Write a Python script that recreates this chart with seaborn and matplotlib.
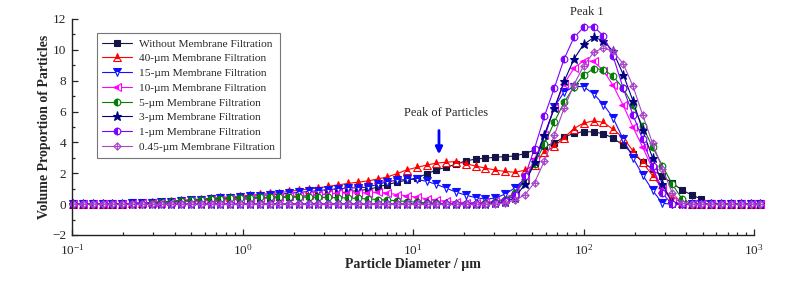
import matplotlib
matplotlib.use("Agg")
import matplotlib.pyplot as plt
import seaborn as sns
import numpy as np
from matplotlib.path import Path
from matplotlib.ticker import MultipleLocator, LogLocator, NullFormatter

# ==============================
# 1. style + fonts
# ==============================
sns.set_style("ticks")
plt.rcParams['font.family'] = ['Liberation Serif', 'DejaVu Serif']
plt.rcParams['mathtext.fontset'] = 'custom'
plt.rcParams['mathtext.rm'] = 'Liberation Serif'
plt.rcParams['mathtext.it'] = 'Liberation Serif:italic'
plt.rcParams['mathtext.bf'] = 'Liberation Serif:bold'

# ==============================
# 2. data (particle size bins, volume %)
# ==============================
diameter = [0.101, 0.116, 0.132, 0.151, 0.172, 0.197, 0.225, 0.256, 0.293, 0.334,
            0.382, 0.436, 0.498, 0.569, 0.649, 0.741, 0.847, 0.966, 1.10, 1.26,
            1.44, 1.64, 1.88, 2.14, 2.44, 2.79, 3.19, 3.64, 4.16, 4.74,
            5.42, 6.19, 7.06, 8.07, 9.20, 10.5, 12.0, 13.7, 15.7, 17.9,
            20.4, 23.3, 26.6, 30.4, 34.7, 39.6, 45.3, 51.6, 59.0, 67.3,
            76.9, 87.9, 100, 115, 131, 149, 171, 195, 222, 254,
            290, 331, 378, 431, 492, 562, 643, 733, 837, 955, 1090]

no_filter = ([0] * 6 +
             [0.02, 0.05, 0.08, 0.10, 0.13, 0.16, 0.19, 0.22, 0.25, 0.27, 0.30, 0.32] +
             [0.35, 0.38, 0.41, 0.44, 0.47, 0.51] +
             [0.55, 0.60, 0.66, 0.72, 0.80, 0.88, 0.95, 1.10, 1.27, 1.42, 1.56, 1.70, 1.95] +
             [2.22, 2.39, 2.60, 2.80, 2.92, 2.98, 3.04, 3.08, 3.12, 3.28, 3.50, 3.75] +
             [3.95, 4.36, 4.58, 4.70, 4.68, 4.56, 4.29, 3.81, 3.28, 2.76, 2.25, 1.81,
              1.36, 0.92, 0.59, 0.33, 0.10, 0, 0, 0, 0, 0])

f40 = ([0] * 5 +
       [0.02, 0.05, 0.08, 0.11, 0.15, 0.19, 0.24, 0.29, 0.33, 0.38, 0.43, 0.48] +
       [0.53, 0.58, 0.63, 0.69, 0.75, 0.82, 0.90, 0.98, 1.06, 1.15, 1.25, 1.34] +
       [1.42, 1.50, 1.63, 1.76, 1.98, 2.22, 2.38, 2.53, 2.66, 2.72, 2.76, 2.62] +
       [2.47, 2.33, 2.21, 2.12, 2.06, 2.20, 2.55, 3.35, 3.75, 4.30, 4.90, 5.25] +
       [5.40, 5.30, 4.85, 4.30, 3.45, 2.70, 1.85, 1.00, 0.45, 0.10, 0, 0] +
       [0] * 6)

f15 = ([0] * 5 +
       [0.02, 0.05, 0.08, 0.10, 0.13, 0.17, 0.21, 0.25, 0.29, 0.33, 0.37, 0.41] +
       [0.45, 0.50, 0.55, 0.60, 0.65, 0.70, 0.76, 0.82, 0.88, 0.94, 1.00, 1.04] +
       [1.06, 1.10, 1.28, 1.45, 1.55, 1.60, 1.60, 1.48, 1.28, 1.03, 0.78, 0.58] +
       [0.42, 0.33, 0.39, 0.65, 1.05, 1.65, 2.70, 4.30, 6.30, 7.25, 7.62, 7.62] +
       [7.13, 6.45, 5.60, 4.20, 3.00, 1.90, 0.90, 0.05, 0, 0, 0, 0] +
       [0] * 6)

f10 = ([0] * 6 +
       [0.02, 0.05, 0.08, 0.10, 0.13, 0.16, 0.19, 0.22, 0.25, 0.28, 0.31, 0.34] +
       [0.37, 0.40, 0.43, 0.46, 0.50, 0.54, 0.58, 0.62, 0.66, 0.70, 0.73, 0.74] +
       [0.74, 0.78, 0.72, 0.62, 0.54, 0.45, 0.35, 0.26, 0.18, 0.13, 0.10, 0.10] +
       [0.12, 0.18, 0.35, 0.75, 1.60, 2.90, 4.50, 6.20, 7.80, 8.80, 9.30, 9.25] +
       [8.65, 7.70, 6.40, 5.00, 3.70, 2.30, 1.05, 0.20, 0, 0, 0, 0] +
       [0] * 5)

f5 = ([0] * 7 +
      [0.03, 0.07, 0.12, 0.17, 0.21, 0.25, 0.29, 0.32, 0.35, 0.38, 0.40, 0.42] +
      [0.43, 0.44, 0.45, 0.45, 0.45, 0.45, 0.44, 0.43, 0.42, 0.40, 0.37, 0.34] +
      [0.30, 0.26, 0.22, 0.17, 0.13, 0.09, 0.06, 0.04, 0.03, 0.03, 0.04, 0.06] +
      [0.12, 0.30, 0.70, 1.50, 2.60, 3.90, 5.30, 6.60, 7.60, 8.35, 8.78, 8.72] +
      [8.30, 7.50, 6.40, 5.05, 3.70, 2.50, 1.30, 0.35, 0, 0, 0, 0] +
      [0] * 4)

f3 = ([0] * 43 +
      [0.05, 0.15, 0.40, 1.30, 2.70, 4.50, 6.20, 7.95, 9.40, 10.35, 10.80, 10.60] +
      [9.90, 8.40, 6.70, 4.80, 3.00, 1.30, 0.10, 0, 0, 0, 0, 0] +
      [0] * 4)

f1 = ([0] * 43 +
      [0.05, 0.20, 0.60, 1.80, 3.60, 5.70, 7.50, 9.40, 10.80, 11.45, 11.50, 10.90] +
      [9.60, 7.50, 5.80, 4.20, 2.45, 0.70, 0, 0, 0, 0, 0, 0] +
      [0] * 4)

f045 = ([0] * 44 +
        [0.08, 0.25, 0.60, 1.40, 2.80, 4.45, 6.20, 7.75, 8.95, 9.85, 10.12, 9.90] +
        [9.10, 7.65, 5.80, 3.95, 2.30, 0.75, 0.05, 0, 0, 0, 0, 0] +
        [0] * 3)

labels = ["Without Membrane Filtration", "40-\u00b5m Membrane Filtration",
          "15-\u00b5m Membrane Filtration", "10-\u00b5m Membrane Filtration",
          "5-\u00b5m Membrane Filtration", "3-\u00b5m Membrane Filtration",
          "1-\u00b5m Membrane Filtration", "0.45-\u00b5m Membrane Filtration"]

# diamond with a cross inside (open marker)
diamond_plus = Path(
    [(0, 1), (1, 0), (0, -1), (-1, 0), (0, 1), (0, 1), (0, -1), (-1, 0), (1, 0)],
    [Path.MOVETO, Path.LINETO, Path.LINETO, Path.LINETO, Path.CLOSEPOLY,
     Path.MOVETO, Path.LINETO, Path.MOVETO, Path.LINETO])

# (values, color, marker, fillstyle, size)
styles = [
    (no_filter, "#14144a", "s", "full", 4.6),
    (f40, "#ff0000", "^", "top", 5.2),
    (f15, "#1010ff", "v", "top", 5.2),
    (f10, "#ff00ff", "<", "left", 5.2),
    (f5, "#008000", "o", "left", 4.8),
    (f3, "#000080", "*", "full", 6.5),
    (f1, "#8000ff", "o", "left", 4.8),
    (f045, "#a845c8", diamond_plus, "none", 5.2),
]

# ==============================
# 3. plot
# ==============================
fig = plt.figure(figsize=(8.04, 2.82), dpi=100)
ax = fig.add_axes([0.0896, 0.1667, 0.8482, 0.766])
ax.set_xscale("log")

for lab, (vals, col, mk, fs, ms) in zip(labels, styles):
    if fs == "none":
        face = "none"
        fs_use = "full"
    else:
        face = col
        fs_use = fs
    sns.lineplot(x=diameter, y=vals, ax=ax, color=col, lw=0.8, errorbar=None,
                 marker=mk, markersize=ms, markeredgecolor=col, markeredgewidth=0.8,
                 fillstyle=fs_use, markerfacecolor=face, markerfacecoloralt="white",
                 label=lab, clip_on=False)

ax.set_xlim(0.1, 1000)
ax.set_ylim(-2, 12)

ax.yaxis.set_major_locator(MultipleLocator(2))
ax.yaxis.set_minor_locator(MultipleLocator(1))
ax.xaxis.set_major_locator(LogLocator(base=10, numticks=10))
ax.xaxis.set_minor_locator(LogLocator(base=10, subs=np.arange(2, 10), numticks=20))
ax.xaxis.set_minor_formatter(NullFormatter())
ax.tick_params(which="both", direction="in", top=False, right=False, labelsize=9.5, width=0.9)
ax.tick_params(which="major", length=4.5)
ax.tick_params(which="minor", length=2.5)
ax.tick_params(axis="x", which="major", pad=6)
ax.tick_params(axis="y", which="major", pad=4)
sns.despine(ax=ax)
for sp in ["left", "bottom"]:
    ax.spines[sp].set_linewidth(1.0)
    ax.spines[sp].set_color("#222222")

ax.set_xlabel("Particle Diameter / \u00b5m", fontweight="bold", fontsize=10, labelpad=0)
ax.set_ylabel("Volume Proportion of Particles", fontweight="bold", fontsize=10, labelpad=1)

# annotations
ax.text(105, 12.45, "Peak 1", ha="center", va="center", fontsize=9, clip_on=False)
ax.text(15.6, 5.9, "Peak of Particles", ha="center", va="center", fontsize=9)
ax.annotate("", xy=(14.2, 3.05), xytext=(14.2, 4.95),
            arrowprops=dict(arrowstyle="-|>", color="#0000ff", lw=2, mutation_scale=10))

leg = ax.legend(loc="upper left", bbox_to_anchor=(0.036, 0.935), fontsize=8.2,
                frameon=True, fancybox=False, edgecolor="#555555",
                handlelength=2.6, handletextpad=0.6, labelspacing=0.42,
                borderpad=0.5, borderaxespad=0)
leg.get_frame().set_linewidth(0.8)

fig.savefig("out.png", dpi=100, facecolor="white")
